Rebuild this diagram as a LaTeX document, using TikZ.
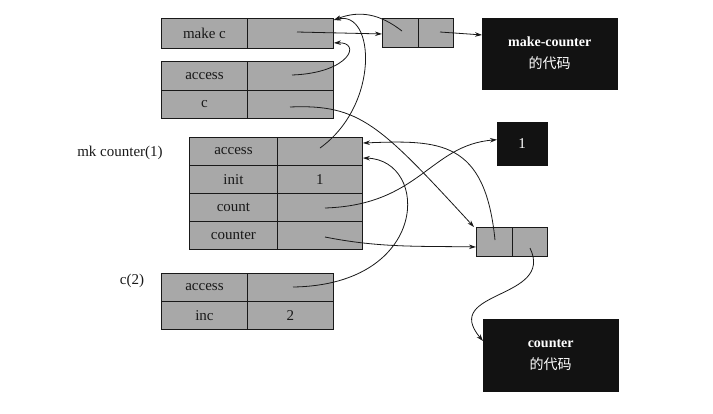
\documentclass[tikz,border=0pt]{standalone}
\usepackage{fontspec}
\setmainfont{Liberation Serif}
\newfontfamily\cjk{Noto Sans CJK SC}
\usetikzlibrary{arrows.meta}
\definecolor{boxgray}{RGB}{168,168,168}
\definecolor{ink}{RGB}{25,25,25}
\definecolor{codeblack}{RGB}{18,18,18}
\begin{document}
\begin{tikzpicture}[x=1pt,y=-1pt,
  cell/.style={draw=ink, line width=0.9pt, fill=boxgray, inner sep=0pt, anchor=north west,
    font=\fontsize{15}{17}\selectfont, text=ink},
  code/.style={fill=codeblack, draw=codeblack, inner sep=0pt, anchor=north west, text=white,
    align=center, font=\bfseries\fontsize{14}{22}\selectfont},
  ptr/.style={draw=ink, line width=0.8pt, -{Stealth[length=7pt,width=4.5pt]}},
  lbl/.style={font=\fontsize{15}{17}\selectfont, text=ink}
]
\useasboundingbox[fill=white] (0,0) rectangle (713,413);

% frame: make c
\node[cell, minimum width=86pt, minimum height=30pt] (A1) at (161,18) {make c};
\node[cell, minimum width=86pt, minimum height=30pt] (A2) at (247,18) {};
% frame: access / c
\node[cell, minimum width=86pt, minimum height=29pt] (B1) at (161,61) {access};
\node[cell, minimum width=86pt, minimum height=29pt] (B2) at (247,61) {};
\node[cell, minimum width=86pt, minimum height=28pt] (B3) at (161,90) {c};
\node[cell, minimum width=86pt, minimum height=28pt] (B4) at (247,90) {};
% frame: mk counter(1)
\node[lbl] (Mlbl) at (120,153) {mk counter(1)};
\node[cell, minimum width=88pt, minimum height=28pt] (M1) at (189,137) {access};
\node[cell, minimum width=85pt, minimum height=28pt] (M2) at (277,137) {};
\node[cell, minimum width=88pt, minimum height=28pt] (M3) at (189,165) {init};
\node[cell, minimum width=85pt, minimum height=28pt] (M4) at (277,165) {1};
\node[cell, minimum width=88pt, minimum height=28pt] (M5) at (189,193) {count};
\node[cell, minimum width=85pt, minimum height=28pt] (M6) at (277,193) {};
\node[cell, minimum width=88pt, minimum height=28pt] (M7) at (189,221) {counter};
\node[cell, minimum width=85pt, minimum height=28pt] (M8) at (277,221) {};
% frame: c(2)
\node[lbl] (Clbl) at (132,281) {c(2)};
\node[cell, minimum width=86pt, minimum height=28pt] (C1) at (161,273) {access};
\node[cell, minimum width=86pt, minimum height=28pt] (C2) at (247,273) {};
\node[cell, minimum width=86pt, minimum height=28pt] (C3) at (161,301) {inc};
\node[cell, minimum width=86pt, minimum height=28pt] (C4) at (247,301) {2};
% closures (pairs)
\node[cell, minimum width=36pt, minimum height=29pt] (P1a) at (382,18) {};
\node[cell, minimum width=35pt, minimum height=29pt] (P1b) at (418,18) {};
\node[cell, minimum width=36pt, minimum height=29pt] (P2a) at (476,227) {};
\node[cell, minimum width=35pt, minimum height=29pt] (P2b) at (512,227) {};
% code / value boxes
\node[code, minimum width=135pt, minimum height=71pt] (MC) at (482,18) {make-counter\\{\normalfont\cjk 的代码}};
\node[code, minimum width=50pt, minimum height=43pt, font=\fontsize{15}{17}\selectfont] (ONE) at (497,122) {1};
\node[code, minimum width=135pt, minimum height=72pt] (CC) at (483,319) {counter\\{\normalfont\cjk 的代码}};

% pointer origins
\coordinate (dA2) at (297,32);
\coordinate (dB2) at (292,75);
\coordinate (dB4) at (290,107);
\coordinate (dM2) at (320,148);
\coordinate (dM6) at (325,208);
\coordinate (dM8) at (325,237);
\coordinate (dC2) at (293,287);
\coordinate (dP1a) at (402,31);
\coordinate (dP1b) at (440,32);
\coordinate (dP2a) at (495,240);
\coordinate (dP2b) at (530,248);

% pointers
\draw[ptr] (dA2) -- ([yshift=-1pt]P1a.west);
\draw[ptr] (dP1b) -- ([yshift=-2pt]MC.north west |- P1b.west);
\draw[ptr] (dP1a) .. controls (380,14) and (360,10) .. ([yshift=-2pt]A2.north east);
\draw[ptr] (dM2) .. controls (380,105) and (375,10) .. ([yshift=-2pt]A2.north east);
\draw[ptr] (dB2) .. controls (350,73) and (362,42) .. ([yshift=6pt]A2.south east);
\draw[ptr] (dB4) .. controls (360,104) and (380,125) .. ([xshift=-2pt]P2a.north west);
\draw[ptr] (dM6) .. controls (420,205) and (430,145) .. ([yshift=4pt]ONE.west);
\draw[ptr] (dM8) .. controls (380,248) and (420,246) .. ([yshift=-5pt]P2a.west);
\draw[ptr] (dP2a) .. controls (485,140) and (440,140) .. ([yshift=-6pt]M2.north east);
\draw[ptr] (dC2) .. controls (430,285) and (430,160) .. ([yshift=-21pt]M2.north east);
\draw[ptr] (dP2b) .. controls (555,300) and (440,290) .. ([yshift=-22pt]CC.north west);
\end{tikzpicture}
\end{document}
